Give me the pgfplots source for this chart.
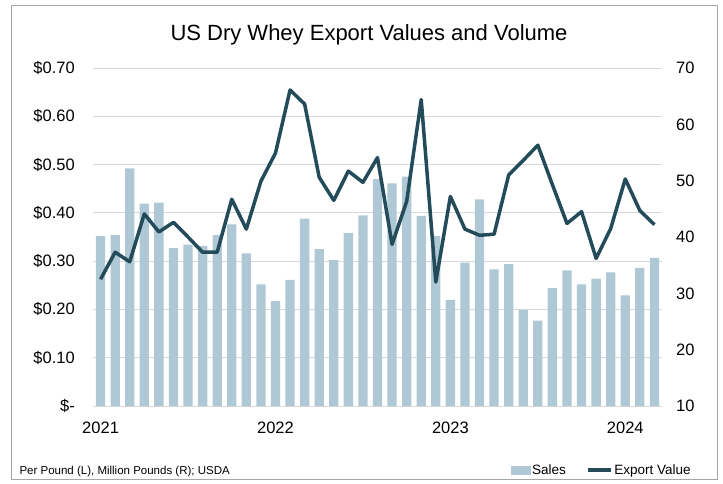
\documentclass[border=0pt]{standalone}
\usepackage{pgfplots}
\pgfplotsset{compat=1.18}
\usepackage{fontspec}
\setmainfont{Liberation Sans}
\definecolor{barcol}{HTML}{AFC8D5}
\definecolor{linecol}{HTML}{244B5A}
\definecolor{gridcol}{HTML}{D9D9D9}
\definecolor{framecol}{HTML}{A6A6A6}
\begin{document}
\begin{tikzpicture}[x=1pt,y=1pt]
\useasboundingbox (0,0) rectangle (723,483);
\draw[framecol, line width=0.8pt] (11,4) rectangle (717,478);
\node[font=\fontsize{22}{26}\selectfont] at (369,448) {US Dry Whey Export Values and Volume};
\node[anchor=west, font=\fontsize{11.5}{13}\selectfont] at (16,11) {Per Pound (L), Million Pounds (R); USDA};
\begin{axis}[at={(93.3pt,77pt)}, anchor=south west, scale only axis,
  width=568.4pt, height=338pt,
  xmin=-0.5, xmax=38.5, ymin=0, ymax=0.7,
  axis line style={draw=none}, tick style={draw=none},
  ymajorgrids, grid style={gridcol, line width=0.9pt},
  xtick={0,12,24,36}, xticklabels={2021,2022,2023,2024},
  ytick={0,0.1,0.2,0.3,0.4,0.5,0.6,0.7},
  yticklabels={\$-\hspace{7pt},\$0.10,\$0.20,\$0.30,\$0.40,\$0.50,\$0.60,\$0.70},
  ticklabel style={font=\fontsize{16.5}{18}\selectfont},
  xticklabel style={yshift=-12pt},
  yticklabel style={xshift=-15pt},
  /pgf/number format/assume math mode=true,
]
\addplot[ybar, bar width=9.3pt, bar shift=0pt, fill=barcol, draw=none] coordinates {
(0,0.352) (1,0.354) (2,0.492) (3,0.419) (4,0.421) (5,0.327) (6,0.334) (7,0.331)
(8,0.354) (9,0.376) (10,0.316) (11,0.252) (12,0.217) (13,0.261) (14,0.388) (15,0.325)
(16,0.302) (17,0.358) (18,0.395) (19,0.470) (20,0.461) (21,0.475) (22,0.394) (23,0.352)
(24,0.220) (25,0.297) (26,0.428) (27,0.283) (28,0.294) (29,0.199) (30,0.177) (31,0.244)
(32,0.281) (33,0.252) (34,0.264) (35,0.277) (36,0.229) (37,0.286) (38,0.307)
};
\end{axis}
\begin{axis}[at={(93.3pt,77pt)}, anchor=south west, scale only axis,
  width=568.4pt, height=338pt,
  xmin=-0.5, xmax=38.5, ymin=10, ymax=70,
  hide x axis, axis y line*=right,
  axis line style={draw=none}, tick style={draw=none},
  ytick={10,20,30,40,50,60,70},
  ticklabel style={font=\fontsize{16.5}{18}\selectfont},
  yticklabel style={xshift=11pt},
  /pgf/number format/assume math mode=true,
  legend style={at={(1.06,-0.19)}, anchor=east, draw=none, fill=none,
    legend columns=2, font=\fontsize{13.5}{15}\selectfont,
    /tikz/every even column/.append style={column sep=18pt}},
  legend cell align=left,
]
\addlegendimage{legend image code/.code={\fill[barcol] (0pt,-4pt) rectangle (19pt,4pt);}}
\addlegendentry{Sales}
\addplot[linecol, line width=3.5pt, line join=round,
  legend image code/.code={\draw[linecol, line width=3.5pt] (0pt,0pt) -- (23pt,0pt);}] coordinates {
(0,32.5) (1,37.3) (2,35.6) (3,44.1) (4,40.9) (5,42.6) (6,40.0) (7,37.3)
(8,37.3) (9,46.7) (10,41.4) (11,49.9) (12,54.9) (13,66.1) (14,63.6) (15,50.6)
(16,46.5) (17,51.7) (18,49.7) (19,54.1) (20,38.7) (21,46.3) (22,64.4) (23,32.0)
(24,47.2) (25,41.4) (26,40.3) (27,40.5) (28,51.0) (29,53.6) (30,56.3) (31,49.3)
(32,42.4) (33,44.5) (34,36.2) (35,41.5) (36,50.3) (37,44.7) (38,42.2)
};
\addlegendentry{Export Value}
\end{axis}
\end{tikzpicture}
\end{document}
